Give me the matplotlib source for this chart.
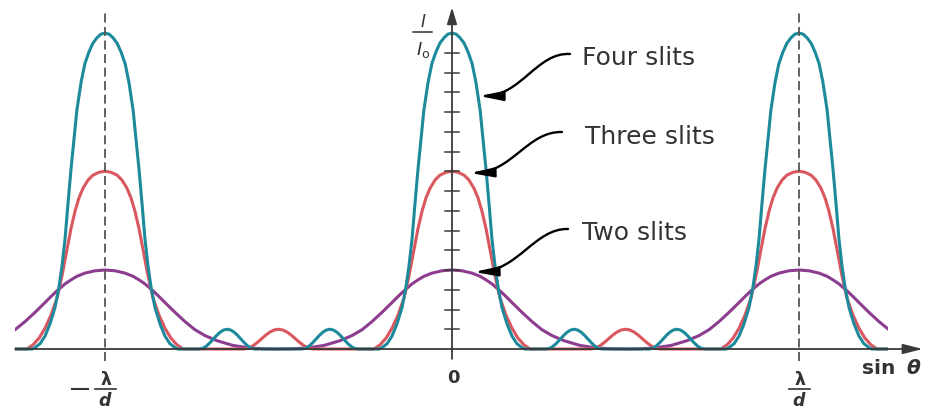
import numpy as np
import matplotlib.pyplot as plt
from matplotlib.patches import FancyArrowPatch, Rectangle
from matplotlib.path import Path

# Intensity over half a period, sin(theta) in units of lambda/d, I in units of I0
u_four = [0, .012, .023, .035, .046, .058, .069, .081, .089, .098, .107, .115, .124, .133, .144, .159,
          .173, .187, .202, .210,
          .272, .282, .292, .302, .312, .322, .332, .342, .352, .362, .372, .382, .392, .402, .412,
          .422, .432, .5]
i_four = [16, 15.94, 15.76, 15.48, 15.05, 14.45, 13.5, 12.1, 10.7, 9.1, 7.3, 5.6, 4.2, 3.1, 2.1, 1.25,
          0.65, 0.27, 0.07, 0,
          0, .038, .146, .309, .5, .691, .854, .962, 1.0, .962, .854, .691, .5, .309, .146,
          .038, 0, 0]

u_three = [0, .017, .035, .049, .063, .075, .086, .098, .110, .124, .138, .156, .173, .190, .207, .225,
           .40, .4125, .425, .4375, .45, .4625, .475, .4875, .5]
i_three = [9, 8.95, 8.8, 8.55, 8.15, 7.65, 7.0, 6.1, 5.0, 3.7, 2.6, 1.7, 1.05, 0.55, 0.22, 0,
           0, .038, .146, .309, .5, .691, .854, .962, 1.0]

u_two = [0, .029, .058, .081, .098, .115, .138, .156, .173, .202, .231, .259, .288, .323, .369, .418,
         .461, .5]
i_two = [4.0, 3.96, 3.84, 3.68, 3.5, 3.3, 2.95, 2.65, 2.35, 1.85, 1.38, 0.98, 0.68, 0.42, 0.18, 0.05,
         0.01, 0]

orders = [-1, 0, 1]
labels = ['Four slits', 'Three slits', 'Two slits']
colors = ['#1d8a9b', '#d9575f', '#8c3d8f']


def tile(u_half, i_half):
    u = np.asarray(u_half, float)
    i = np.asarray(i_half, float)
    u_per = np.concatenate([-u[:0:-1], u])
    i_per = np.concatenate([i[:0:-1], i])
    xs = np.concatenate([u_per + m for m in orders])
    ys = np.tile(i_per, len(orders))
    return xs, ys


fig = plt.figure(figsize=(9.31, 4.10), dpi=100)
ax = fig.add_axes([0, 0, 1, 1])
ax.set_xlim(-452 / 347, 479 / 347)
ax.set_ylim(-60 / 19.75, 350 / 19.75)
ax.axis('off')

clip = Rectangle((-1.259, -5), 2.515, 30, transform=ax.transData)
for (uh, ih), c in zip([(u_two, i_two), (u_three, i_three), (u_four, i_four)], colors[::-1]):
    xs, ys = tile(uh, ih)
    ln, = ax.plot(xs, ys, color=c, lw=2.2, solid_joinstyle='round', zorder=2)
    ln.set_clip_path(clip)

# dashed markers at the first-order maxima
for m in [-1, 1]:
    ax.plot([m, m], [-0.6, 17.2], color='#555555', lw=1.3, ls=(0, (5, 2.5)), zorder=3)

axis_col = '#3a3a3a'
# horizontal axis
ax.annotate('', xy=(1.357, 0), xytext=(-1.259, 0),
            arrowprops=dict(arrowstyle='-|>,head_length=1.2,head_width=0.3', color=axis_col,
                            lw=1.3, shrinkA=0, shrinkB=0, mutation_scale=10), zorder=4)
# vertical axis
ax.annotate('', xy=(0, 17.3), xytext=(0, -0.5),
            arrowprops=dict(arrowstyle='-|>,head_length=1.0,head_width=0.3', color=axis_col,
                            lw=1.3, shrinkA=0, shrinkB=0, mutation_scale=10), zorder=4)
for k in range(1, 16):
    ax.plot([-0.019, 0.019], [k, k], color=axis_col, lw=1.1, zorder=4)

# axis labels
txt = '#333333'
ax.text(0.003, -1.42, '0', ha='center', va='center', fontsize=13, fontweight='bold', color=txt)
for m in [-1, 1]:
    ax.text(m + 0.003, -1.5, 'λ', ha='center', va='center', fontsize=12.5, fontweight='bold', color=txt)
    ax.plot([m - 0.028, m + 0.032], [-2.0, -2.0], color=txt, lw=1.2)
    ax.text(m, -2.58, 'd', ha='center', va='center', fontsize=12.5, fontweight='bold',
            style='italic', color=txt)
ax.plot([-1.095, -1.05], [-2.03, -2.03], color=txt, lw=1.5)
ax.text(1.182, -0.92, 'sin', ha='left', va='center', fontsize=14.5, fontweight='bold', color=txt)
ax.text(1.31, -0.92, 'θ', ha='left', va='center', fontsize=14.5, fontweight='bold',
        style='italic', color=txt)

ax.text(-0.085, 16.6, 'I', ha='center', va='center', fontsize=12, style='italic', color=txt)
ax.plot([-0.111, -0.058], [16.05, 16.05], color=txt, lw=1.1)
ax.text(-0.083, 15.2, r'$I_{\mathrm{o}}$', ha='center', va='center', fontsize=13, color=txt)

# slit labels with curved pointers
text_pos = [(0.375, 14.78), (0.383, 10.78), (0.375, 5.92)]
pointer_px = [
    [(570, 55), (537, 53), (521, 97), (479, 97)],
    [(562, 133), (528, 132), (512, 173), (470, 174)],
    [(568, 230), (535, 229), (518, 272), (474, 273)],
]
for lab, (tx, ty), pts in zip(labels, text_pos, pointer_px):
    ax.text(tx, ty, lab, ha='left', va='center', fontsize=18, color=txt)
    verts = [((px - 452) / 347, (350 - py) / 19.75) for px, py in pts]
    path = Path(verts, [Path.MOVETO, Path.CURVE4, Path.CURVE4, Path.CURVE4])
    arr = FancyArrowPatch(path=path, arrowstyle='-|>,head_length=1.4,head_width=0.28',
                          mutation_scale=10, color='black', lw=1.7, zorder=5)
    ax.add_patch(arr)

fig.savefig('out.png', dpi=100)
